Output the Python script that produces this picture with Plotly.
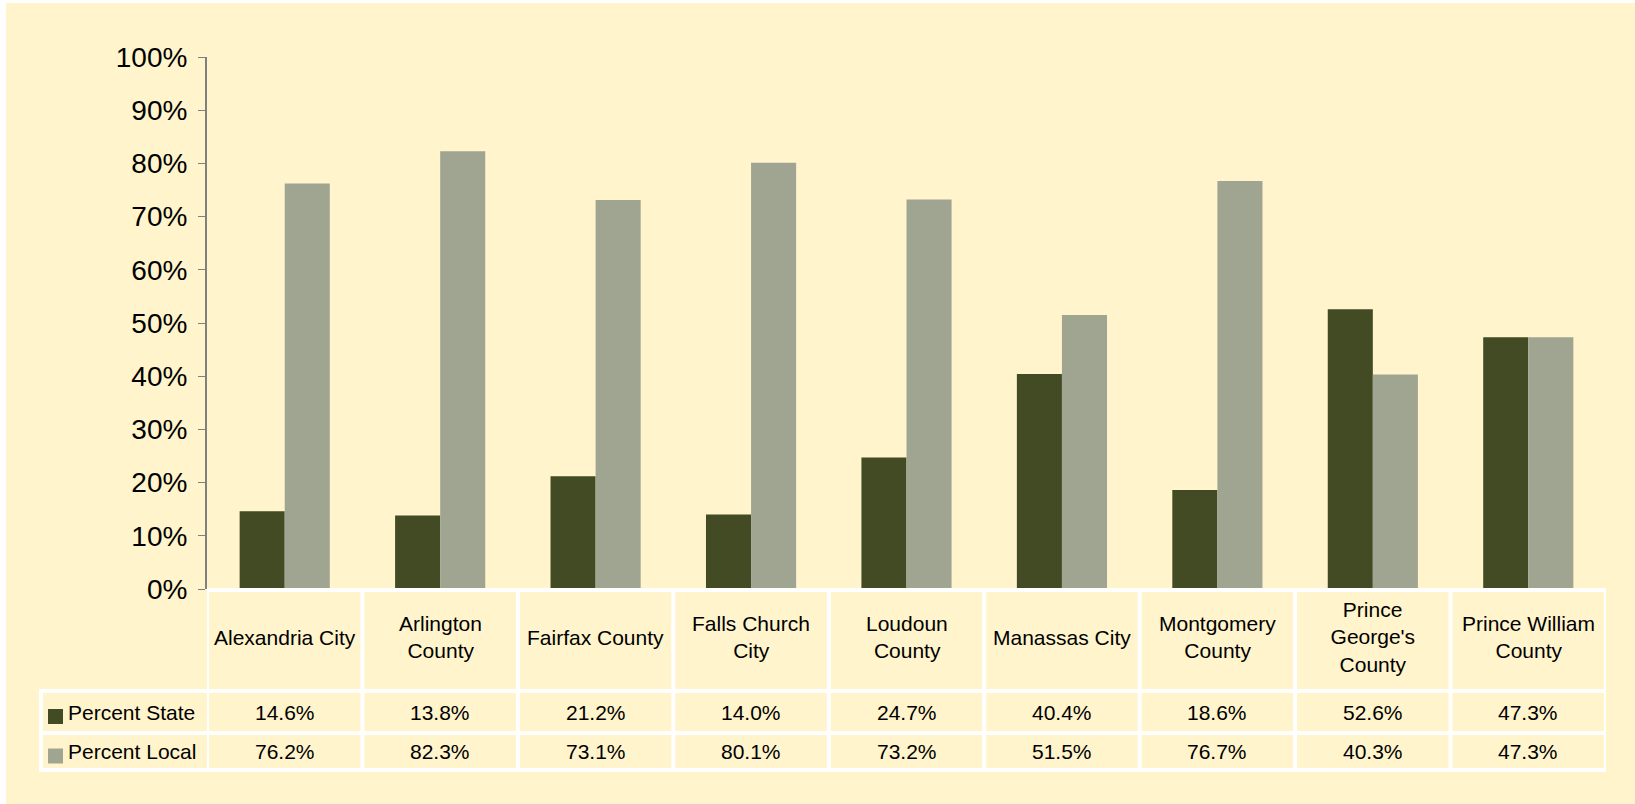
import plotly.graph_objects as go

# data
counties = ["Alexandria City", "Arlington County", "Fairfax County", "Falls Church City",
            "Loudoun County", "Manassas City", "Montgomery County",
            "Prince George's County", "Prince William County"]
header_labels = ["Alexandria City", "Arlington<br>County", "Fairfax County", "Falls Church<br>City",
                 "Loudoun<br>County", "Manassas City", "Montgomery<br>County",
                 "Prince<br>George's<br>County", "Prince William<br>County"]
percent_state = [14.6, 13.8, 21.2, 14.0, 24.7, 40.4, 18.6, 52.6, 47.3]
percent_local = [76.2, 82.3, 73.1, 80.1, 73.2, 51.5, 76.7, 40.3, 47.3]
series_names = ["Percent State", "Percent Local"]
series_colors = ["#424B24", "#A0A592"]
y_ticks = list(range(0, 101, 10))

BG = "#FFF4CC"
W, H = 1635, 804
L, R, T, B = 207, 29, 57, 215
PW, PH = W - L - R, H - T - B


def px(x):
    return (x - L) / PW


def py(y):
    return (H - B - y) / PH


fig = go.Figure()
for name, vals, col in zip(series_names, [percent_state, percent_local], series_colors):
    fig.add_trace(go.Bar(x=list(range(len(counties))), y=vals, name=name,
                         marker=dict(color=col, line=dict(width=0))))

shapes = []
annotations = []

# yellow canvas (thin white strip on left/top like the original)
shapes.append(dict(type="rect", xref="paper", yref="paper", x0=px(6), x1=px(W), y0=py(H), y1=py(3),
                   fillcolor=BG, line=dict(width=0), layer="below"))

n = len(counties)
row_y = [py(590), py(691), py(733), py(770)]
line_style = dict(color="white", width=4)

# horizontal table lines
shapes.append(dict(type="line", xref="x", yref="paper", x0=-0.5, x1=n - 0.5, y0=row_y[0], y1=row_y[0], line=line_style))
for yy in row_y[1:]:
    shapes.append(dict(type="line", xref="paper", yref="paper", x0=px(39), x1=px(L + PW), y0=yy, y1=yy, line=line_style))
# vertical table lines
for i in range(n + 1):
    shapes.append(dict(type="line", xref="x", yref="paper", x0=i - 0.5, x1=i - 0.5, y0=row_y[0], y1=row_y[3], line=line_style))
shapes.append(dict(type="line", xref="paper", yref="paper", x0=px(41), x1=px(41), y0=row_y[1], y1=row_y[3], line=line_style))

txt_font = dict(family="Liberation Sans, Arial, sans-serif", size=21, color="black")

# header cells (a touch above the row centre, with Excel-like line spacing)
for i, lab in enumerate(header_labels):
    annotations.append(dict(x=i, y=py(637), xref="x", yref="paper",
                            text=lab.replace("<br>", "<br><span style='font-size:2px'> </span>"),
                            showarrow=False, font=txt_font, align="center", yanchor="middle"))

# value cells + legend labels
for r, (name, vals, col) in enumerate(zip(series_names, [percent_state, percent_local], series_colors)):
    yc = (row_y[r + 1] + row_y[r + 2]) / 2
    for i, v in enumerate(vals):
        annotations.append(dict(x=i, y=yc, xref="x", yref="paper", text=f"{v:.1f}%",
                                showarrow=False, font=txt_font, yanchor="middle"))
    annotations.append(dict(x=px(66), y=yc, xref="paper", yref="paper", text=name, showarrow=False,
                            font=txt_font, xanchor="left", yanchor="middle"))
    yc_px = H - B - yc * PH
    shapes.append(dict(type="rect", xref="paper", yref="paper", x0=px(48), x1=px(63),
                       y0=py(yc_px + 12), y1=py(yc_px - 3), fillcolor=col, line=dict(width=0)))

fig.update_layout(
    width=W, height=H,
    margin=dict(l=L, r=R, t=T, b=B, pad=0),
    paper_bgcolor="white",
    plot_bgcolor=BG,
    barmode="group",
    bargap=0.42,
    bargroupgap=0,
    showlegend=False,
    shapes=shapes,
    annotations=annotations,
    xaxis=dict(range=[-0.5, n - 0.5], showticklabels=False, showgrid=False, zeroline=False,
               showline=False, ticks=""),
    yaxis=dict(range=[0, 100], tickvals=y_ticks, ticktext=[f"{t}%" for t in y_ticks],
               showgrid=False, zeroline=False, showline=True, linecolor="#7F7F7F", linewidth=2,
               ticks="outside", ticklen=7, tickcolor="#7F7F7F", tickwidth=1, ticklabelstandoff=5,
               tickfont=dict(family="Liberation Sans, Arial, sans-serif", size=28, color="black")),
)

# drop the default page margin so the figure sits at the window's corner
fig.write_html("out.html", config={"displayModeBar": False},
               post_script="document.body.style.margin='0';")
